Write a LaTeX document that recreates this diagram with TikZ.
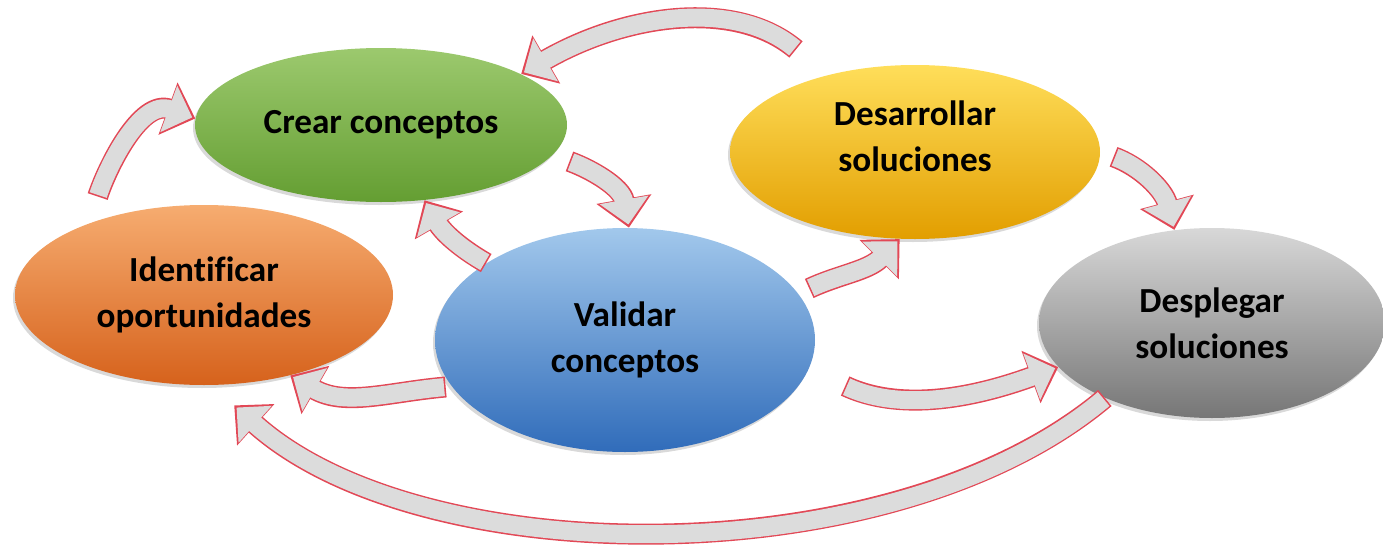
\documentclass[tikz,border=0pt]{standalone}
\usepackage{fontspec}
\setmainfont{Carlito}[Ligatures=NoCommon]
\usetikzlibrary{arrows.meta, positioning, shapes.geometric, shadows}

\definecolor{greenA}{RGB}{156,201,110}
\definecolor{greenB}{RGB}{100,158,50}
\definecolor{yellowA}{RGB}{255,222,90}
\definecolor{yellowB}{RGB}{226,158,0}
\definecolor{orangeA}{RGB}{246,172,112}
\definecolor{orangeB}{RGB}{214,98,28}
\definecolor{blueA}{RGB}{162,200,236}
\definecolor{blueB}{RGB}{48,108,186}
\definecolor{greyA}{RGB}{216,216,216}
\definecolor{greyB}{RGB}{118,118,118}
\definecolor{flowfill}{RGB}{220,220,220}
\definecolor{flowline}{RGB}{226,72,86}

\tikzset{
  stage/.style={ellipse, inner sep=0pt, align=center,
    font=\fontsize{17.6}{23}\selectfont\bfseries,
    drop shadow={shadow xshift=-1pt, shadow yshift=-1.5pt, opacity=0.3}},
  flow/.style args={#1/#2}{draw=flowfill, line width=9pt,
    shorten <=#1+0.8pt, shorten >=#2+1.6pt,
    -{Triangle[length=12.5pt, width=24pt]},
    preaction={draw=flowline, line width=10.5pt, shorten <=#1, shorten >=#2,
      -{Triangle[length=14.5pt, width=27pt]}}},
  flow/.default=0pt/0pt
}

\begin{document}
\begin{tikzpicture}[x=0.5pt, y=0.5pt]
  \useasboundingbox (0,0) rectangle (1383,559);

  % stages
  \node[stage, minimum width=186pt, minimum height=77pt, top color=greenA, bottom color=greenB] (crear) at (381,434) {Crear conceptos};
  \node[stage, minimum width=185pt, minimum height=87pt, top color=yellowA, bottom color=yellowB, text depth=16pt] (desa) at (915,407) {Desarrollar\\soluciones};
  \node[stage, minimum width=189pt, minimum height=90pt, top color=orangeA, bottom color=orangeB] (ident) at (204,264) {Identificar\\oportunidades};
  \node[stage, minimum width=190pt, minimum height=112pt, top color=blueA, bottom color=blueB] (valid) at (625,219) {Validar\\conceptos};
  \node[stage, minimum width=173pt, minimum height=95pt, top color=greyA, bottom color=greyB] (despl) at (1212,236) {Desplegar\\soluciones};

  % flows
  \draw[flow=14pt/0pt] (ident.148) to[out=72, in=160] (crear.178);
  \draw[flow=20pt/0pt] (desa.139) to[out=140, in=30] (crear.20);
  \draw[flow=9pt/0pt] (crear.-10) to[out=-20, in=100] (valid.88);
  \draw[flow] (valid.151) to[out=150, in=-60] (crear.-60);
  \draw[flow=6pt/0pt] (valid.15) to[out=25, in=225] (desa.-100);
  \draw[flow=7pt/0pt] (desa.0) to[out=-20, in=105] (despl.112);
  \draw[flow=3pt/0pt] (valid.195) to[out=185, in=-30] (ident.-43);
  \draw[flow=20pt/0pt] (valid.-9) to[out=-25, in=200] (despl.196);
  \draw[flow=0pt/15pt] (despl.215) to[out=220, in=-42, looseness=0.8] (ident.-85);
\end{tikzpicture}
\end{document}
